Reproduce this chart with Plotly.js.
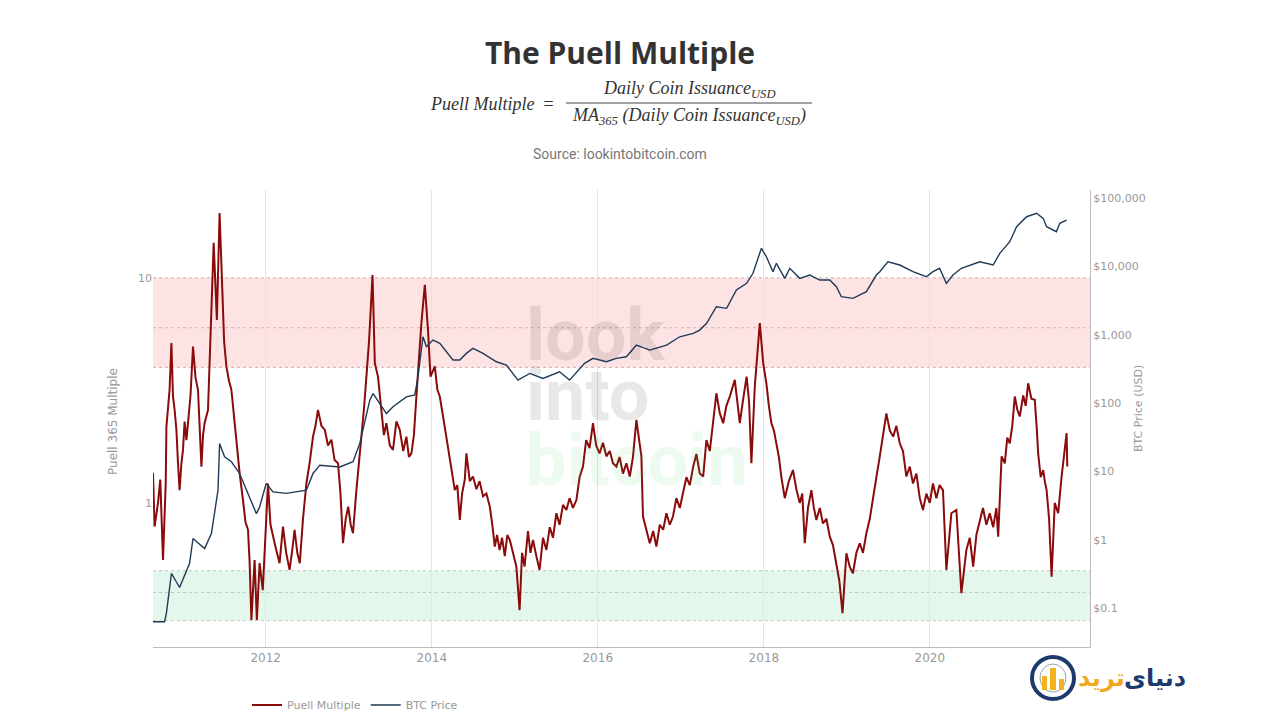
<!DOCTYPE html>
<html>
<head>
<meta charset="utf-8">
<script src="https://cdn.plot.ly/plotly-3.0.1.min.js"></script>
<style>
  html, body { margin: 0; padding: 0; background: #fff; }
  #chart { width: 1280px; height: 720px; }
</style>
</head>
<body>
<div id="chart"></div>
<script>
"use strict"

// Puell Multiple (decimal year, value)
let puellYears = [
	2010.642, 2010.663, 2010.702, 2010.731, 2010.763, 2010.795, 2010.804, 2010.843, 2010.864, 2010.883,
	2010.903, 2010.924, 2010.944, 2010.964, 2010.984, 2011.004, 2011.024, 2011.044, 2011.064, 2011.094,
	2011.124, 2011.154, 2011.184, 2011.204, 2011.225, 2011.245, 2011.265, 2011.305, 2011.346, 2011.373,
	2011.413, 2011.446, 2011.478, 2011.500, 2011.527, 2011.557, 2011.587, 2011.617, 2011.647, 2011.667,
	2011.687, 2011.727, 2011.757, 2011.787, 2011.807, 2011.828, 2011.867, 2011.895, 2011.928, 2011.967,
	2011.995, 2012.028, 2012.058, 2012.088, 2012.128, 2012.169, 2012.208, 2012.248, 2012.289, 2012.320,
	2012.349, 2012.380, 2012.410, 2012.450, 2012.490, 2012.530, 2012.570, 2012.600, 2012.630, 2012.670,
	2012.711, 2012.750, 2012.792, 2012.830, 2012.871, 2012.900, 2012.931, 2012.962, 2012.992, 2013.022,
	2013.052, 2013.093, 2013.123, 2013.153, 2013.183, 2013.213, 2013.245, 2013.286, 2013.313, 2013.353,
	2013.394, 2013.424, 2013.454, 2013.494, 2013.534, 2013.574, 2013.614, 2013.655, 2013.695, 2013.725,
	2013.755, 2013.785, 2013.815, 2013.876, 2013.916, 2013.955, 2013.984, 2014.036, 2014.066, 2014.096,
	2014.137, 2014.177, 2014.227, 2014.277, 2014.307, 2014.337, 2014.367, 2014.398, 2014.418, 2014.458,
	2014.498, 2014.538, 2014.578, 2014.618, 2014.658, 2014.699, 2014.729, 2014.759, 2014.789, 2014.819,
	2014.849, 2014.880, 2014.910, 2014.940, 2014.980, 2015.020, 2015.060, 2015.090, 2015.120, 2015.160,
	2015.190, 2015.221, 2015.261, 2015.301, 2015.341, 2015.382, 2015.422, 2015.462, 2015.502, 2015.542,
	2015.582, 2015.623, 2015.663, 2015.703, 2015.743, 2015.783, 2015.823, 2015.863, 2015.903, 2015.943,
	2015.983, 2016.024, 2016.064, 2016.105, 2016.145, 2016.185, 2016.225, 2016.265, 2016.305, 2016.345,
	2016.386, 2016.426, 2016.466, 2016.496, 2016.527, 2016.546, 2016.586, 2016.627, 2016.667, 2016.707,
	2016.747, 2016.787, 2016.827, 2016.867, 2016.907, 2016.947, 2016.987, 2017.028, 2017.068, 2017.108,
	2017.148, 2017.188, 2017.228, 2017.269, 2017.309, 2017.349, 2017.389, 2017.430, 2017.470, 2017.510,
	2017.550, 2017.590, 2017.651, 2017.711, 2017.751, 2017.792, 2017.822, 2017.852, 2017.892, 2017.922,
	2017.952, 2017.992, 2018.032, 2018.062, 2018.093, 2018.123, 2018.153, 2018.183, 2018.213, 2018.253,
	2018.303, 2018.353, 2018.393, 2018.434, 2018.464, 2018.494, 2018.534, 2018.575, 2018.605, 2018.635,
	2018.675, 2018.715, 2018.755, 2018.795, 2018.835, 2018.876, 2018.912, 2018.948, 2018.996, 2019.036,
	2019.076, 2019.116, 2019.157, 2019.197, 2019.237, 2019.277, 2019.317, 2019.357, 2019.398, 2019.438,
	2019.478, 2019.518, 2019.559, 2019.599, 2019.639, 2019.679, 2019.719, 2019.759, 2019.799, 2019.839,
	2019.880, 2019.920, 2019.960, 2020.000, 2020.040, 2020.080, 2020.120, 2020.161, 2020.201, 2020.261,
	2020.322, 2020.382, 2020.442, 2020.482, 2020.522, 2020.562, 2020.602, 2020.642, 2020.682, 2020.723,
	2020.763, 2020.803, 2020.823, 2020.864, 2020.904, 2020.934, 2020.964, 2020.994, 2021.024, 2021.054,
	2021.084, 2021.124, 2021.154, 2021.184, 2021.224, 2021.265, 2021.285, 2021.305, 2021.335, 2021.365,
	2021.385, 2021.406, 2021.436, 2021.466, 2021.506, 2021.546, 2021.587, 2021.617, 2021.647, 2021.655
];
let puellValues = [
	1.36, 0.785, 1.0, 1.27, 0.558, 1.22, 2.18, 3.18, 5.13, 2.97,
	2.6, 2.11, 1.5, 1.14, 1.5, 1.72, 2.3, 1.9, 2.26, 3.0,
	4.95, 3.6, 3.18, 2.3, 1.45, 2.0, 2.26, 2.59, 6.5, 14.3,
	6.5, 19.4, 8.84, 5.2, 4.04, 3.5, 3.18, 2.4, 1.91, 1.5,
	1.36, 1.03, 0.82, 0.76, 0.55, 0.302, 0.558, 0.302, 0.54, 0.41,
	0.7, 1.22, 0.8, 0.708, 0.62, 0.54, 0.785, 0.6, 0.504, 0.62,
	0.76, 0.6, 0.54, 0.85, 1.22, 1.5, 1.97, 2.2, 2.59, 2.2,
	2.11, 1.8, 1.91, 1.55, 1.50, 1.1, 0.662, 0.85, 0.963, 0.8,
	0.733, 1.14, 1.5, 1.91, 2.6, 3.64, 5.3, 10.3, 4.18, 3.64,
	2.59, 2.0, 2.26, 1.8, 1.72, 2.3, 2.11, 1.7, 1.97, 1.6,
	1.66, 2.0, 2.97, 6.29, 9.3, 5.87, 3.64, 4.04, 3.2, 2.97,
	2.4, 1.97, 1.5, 1.14, 1.2, 0.84, 1.1, 1.27, 1.66, 1.25,
	1.31, 1.15, 1.25, 1.07, 1.1, 0.963, 0.8, 0.64, 0.72, 0.618,
	0.7, 0.58, 0.72, 0.685, 0.6, 0.521, 0.334, 0.6, 0.521, 0.75,
	0.6, 0.685, 0.58, 0.504, 0.7, 0.618, 0.78, 0.7, 0.90, 0.8,
	0.98, 0.93, 1.05, 0.95, 1.03, 1.3, 1.45, 1.9, 1.75, 2.26,
	1.8, 1.66, 1.85, 1.61, 1.7, 1.5, 1.45, 1.6, 1.35, 1.5,
	1.31, 1.6, 2.34, 1.9, 1.61, 0.87, 0.75, 0.662, 0.75, 0.64,
	0.8, 0.76, 0.9, 0.8, 0.87, 1.05, 0.95, 1.14, 1.3, 1.2,
	1.45, 1.65, 1.35, 1.31, 1.9, 1.7, 2.34, 3.07, 2.5, 2.26,
	2.7, 2.97, 3.52, 2.26, 2.9, 3.64, 2.8, 1.50, 3.29, 4.5,
	6.29, 4.18, 3.40, 2.7, 2.26, 2.1, 1.84, 1.6, 1.3, 1.05,
	1.25, 1.40, 1.15, 1.0, 1.1, 0.662, 0.95, 1.14, 0.95, 0.84,
	0.95, 0.81, 0.85, 0.708, 0.65, 0.521, 0.45, 0.324, 0.598, 0.52,
	0.487, 0.6, 0.662, 0.6, 0.733, 0.85, 1.07, 1.3, 1.61, 2.0,
	2.50, 2.1, 1.97, 2.2, 1.84, 1.7, 1.31, 1.45, 1.22, 1.35,
	1.05, 0.93, 1.1, 1.0, 1.22, 1.05, 1.2, 1.14, 0.504, 0.90,
	0.93, 0.397, 0.618, 0.7, 0.521, 0.72, 0.84, 0.95, 0.8, 0.90,
	0.78, 0.95, 0.708, 1.61, 1.5, 1.95, 1.84, 2.2, 2.97, 2.6,
	2.42, 3.0, 2.7, 3.40, 2.9, 2.87, 2.2, 1.66, 1.3, 1.40,
	1.25, 1.14, 0.85, 0.47, 1.0, 0.90, 1.31, 1.6, 2.04, 1.45
];

// BTC price (USD)
let btcYears = [
	2010.642, 2010.783, 2010.804, 2010.864, 2010.924, 2010.964, 2011.084, 2011.124, 2011.265, 2011.346,
	2011.425, 2011.446, 2011.506, 2011.587, 2011.687, 2011.807, 2011.888, 2011.928, 2012.008, 2012.088,
	2012.249, 2012.490, 2012.570, 2012.651, 2012.892, 2013.052, 2013.133, 2013.253, 2013.293, 2013.454,
	2013.534, 2013.695, 2013.795, 2013.835, 2013.895, 2013.936, 2014.016, 2014.096, 2014.257, 2014.337,
	2014.418, 2014.498, 2014.618, 2014.780, 2014.900, 2015.040, 2015.181, 2015.341, 2015.542, 2015.663,
	2015.843, 2015.943, 2016.105, 2016.225, 2016.346, 2016.466, 2016.627, 2016.828, 2016.988, 2017.148,
	2017.229, 2017.310, 2017.430, 2017.551, 2017.671, 2017.792, 2017.871, 2017.972, 2018.032, 2018.112,
	2018.153, 2018.253, 2018.313, 2018.434, 2018.554, 2018.675, 2018.795, 2018.876, 2018.936, 2019.076,
	2019.237, 2019.358, 2019.398, 2019.498, 2019.639, 2019.799, 2019.960, 2020.040, 2020.120, 2020.201,
	2020.281, 2020.382, 2020.602, 2020.763, 2020.843, 2020.964, 2021.044, 2021.165, 2021.285, 2021.365,
	2021.406, 2021.526, 2021.566, 2021.647
];
let btcPrices = [
	0.063, 0.063, 0.084, 0.32, 0.24, 0.20, 0.45, 1.04, 0.74, 1.23,
	5.3, 25.6, 16.3, 13.8, 9.3, 4.2, 2.4, 3.0, 6.65, 5.0,
	4.75, 5.3, 9.3, 12.3, 11.6, 13.8, 25.6, 110, 138, 70,
	88, 123, 131, 242, 931, 665, 834, 746, 425, 425,
	532, 630, 532, 401, 359, 216, 271, 229, 286, 216,
	380, 450, 401, 450, 474, 704, 595, 704, 931, 1045,
	1167, 1463, 2560, 2427, 4500, 5640, 7900, 18350, 13830, 8340,
	11070, 6670, 9350, 6670, 7460, 6300, 6300, 5030, 3590, 3400,
	4250, 7460, 8340, 11680, 10450, 8340, 7040, 8340, 9350, 5640,
	7460, 9350, 11680, 10450, 15500, 22900, 38000, 53200, 59700, 50400,
	38000, 32100, 42600, 47600
];

// zones on the Puell axis
let topZone = [4, 10],
	bottomZone = [0.3, 0.5];
let zoneLines = [0.3, 0.4, 0.5, 4, 6, 10];

let btcTickVals = [0.1, 1, 10, 100, 1000, 10000, 100000];
let btcTickText = ['$0.1', '$1', '$10', '$100', '$1,000', '$10,000', '$100,000'];

function yearToDate(y){
	let Y = Math.floor(y);
	let start = Date.UTC(Y, 0, 1), end = Date.UTC(Y + 1, 0, 1);
	return new Date(start + (y - Y) * (end - start)).toISOString().slice(0, 10);
}

// plot box in page pixels, used to place the free texts
let L = 153, R = 1090, T = 190, B = 647;
function px(x){ return (x - L) / (R - L); }
function py(y){ return (B - y) / (B - T); }

let gray = '#999';

let puellTrace = {
	x: puellYears.map(yearToDate),
	y: puellValues,
	name: 'Puell Multiple',
	mode: 'lines',
	type: 'scatter',
	line: {color: '#8b0a0a', width: 2},
	yaxis: 'y'
};
let btcTrace = {
	x: btcYears.map(yearToDate),
	y: btcPrices,
	name: 'BTC Price',
	mode: 'lines',
	type: 'scatter',
	line: {color: '#1f3a56', width: 1.4},
	yaxis: 'y2'
};

let shapes = [
	{type: 'rect', xref: 'paper', x0: 0, x1: 1, yref: 'y', y0: topZone[0], y1: topZone[1],
		fillcolor: '#fde3e3', line: {width: 0}, layer: 'below'},
	{type: 'rect', xref: 'paper', x0: 0, x1: 1, yref: 'y', y0: bottomZone[0], y1: bottomZone[1],
		fillcolor: '#e4f7ec', line: {width: 0}, layer: 'below'}
];
zoneLines.forEach(v => {
	shapes.push({type: 'line', xref: 'paper', x0: 0, x1: 1, yref: 'y', y0: v, y1: v,
		line: {color: v > 1 ? '#d6b0b0' : '#b7cdbf', width: 1, dash: 'dot'}, layer: 'below'});
});

// fraction bar of the formula
shapes.push({type: 'line', xref: 'paper', yref: 'paper', x0: px(566), x1: px(812), y0: py(103), y1: py(103),
	line: {color: '#444', width: 1}});

// logo (globe badge)
shapes.push({type: 'circle', xref: 'paper', yref: 'paper', x0: px(1032), x1: px(1074), y0: py(699), y1: py(657),
	fillcolor: '#ffffff', line: {color: '#1d3a6e', width: 4}});
shapes.push({type: 'circle', xref: 'paper', yref: 'paper', x0: px(1040), x1: px(1066), y0: py(692), y1: py(664),
	fillcolor: 'rgba(0,0,0,0)', line: {color: '#9aa3b5', width: 1}});
shapes.push({type: 'rect', xref: 'paper', yref: 'paper', x0: px(1042), x1: px(1047), y0: py(690), y1: py(676),
	fillcolor: '#f2b21b', line: {width: 0}});
shapes.push({type: 'rect', xref: 'paper', yref: 'paper', x0: px(1050), x1: px(1056), y0: py(690), y1: py(668),
	fillcolor: '#f2b21b', line: {width: 0}});
shapes.push({type: 'rect', xref: 'paper', yref: 'paper', x0: px(1059), x1: px(1064), y0: py(690), y1: py(679),
	fillcolor: '#f2b21b', line: {width: 0}});

let formulaFont = {family: 'Liberation Serif', size: 18, color: '#333'};
let annotations = [
	// formula
	{xref: 'paper', yref: 'paper', x: px(428), xanchor: 'left', y: py(104), yanchor: 'middle', showarrow: false,
		text: '<i>Puell Multiple</i>  =', font: formulaFont},
	{xref: 'paper', yref: 'paper', x: px(689), xanchor: 'center', y: py(90), yanchor: 'middle', showarrow: false,
		text: '<i>Daily Coin Issuance<sub>USD</sub></i>', font: formulaFont},
	{xref: 'paper', yref: 'paper', x: px(689), xanchor: 'center', y: py(117), yanchor: 'middle', showarrow: false,
		text: '<i>MA<sub>365</sub> (Daily Coin Issuance<sub>USD</sub>)</i>', font: formulaFont},
	// source line
	{xref: 'paper', yref: 'paper', x: px(620), xanchor: 'center', y: py(154), yanchor: 'middle', showarrow: false,
		text: 'Source: lookintobitcoin.com', font: {family: 'Roboto', size: 14, color: '#777'}},
	// axis titles
	{xref: 'paper', yref: 'paper', x: px(113), xanchor: 'center', y: py(422), yanchor: 'middle', showarrow: false, textangle: -90,
		text: 'Puell 365 Multiple', font: {family: 'DejaVu Sans', size: 12, color: gray}},
	{xref: 'paper', yref: 'paper', x: px(1138), xanchor: 'center', y: py(409), yanchor: 'middle', showarrow: false, textangle: -90,
		text: 'BTC Price (USD)', font: {family: 'DejaVu Sans', size: 11, color: gray}},
	// watermark
	{xref: 'paper', yref: 'paper', x: px(524), xanchor: 'left', y: py(335), yanchor: 'middle', showarrow: false,
		text: '<b>look</b>', font: {family: 'Roboto', size: 72, color: 'rgba(0,0,0,0.09)'}},
	{xref: 'paper', yref: 'paper', x: px(524), xanchor: 'left', y: py(395), yanchor: 'middle', showarrow: false,
		text: '<b>into</b>', font: {family: 'Roboto', size: 72, color: 'rgba(0,0,0,0.09)'}},
	{xref: 'paper', yref: 'paper', x: px(524), xanchor: 'left', y: py(461), yanchor: 'middle', showarrow: false,
		text: '<b>bitcoin</b>', font: {family: 'Roboto', size: 72, color: 'rgba(40,200,90,0.09)'}},
	// logo text
	{xref: 'paper', yref: 'paper', x: px(1155), xanchor: 'center', y: py(678), yanchor: 'middle', showarrow: false,
		text: '<b>دنیای</b>', font: {family: 'DejaVu Sans', size: 24, color: '#1d3a6e'}},
	{xref: 'paper', yref: 'paper', x: px(1101), xanchor: 'center', y: py(678), yanchor: 'middle', showarrow: false,
		text: '<b>ترید</b>', font: {family: 'DejaVu Sans', size: 24, color: '#f2a81d'}}
];

let layout = {
	width: 1280,
	height: 720,
	paper_bgcolor: '#ffffff',
	plot_bgcolor: '#ffffff',
	margin: {l: L, r: 1280 - R, t: T, b: 720 - B, pad: 0},
	title: {
		text: '<b>The Puell Multiple</b>',
		xref: 'container', x: 620 / 1280, xanchor: 'center',
		yref: 'container', y: 1 - 53 / 720, yanchor: 'middle',
		font: {family: 'Open Sans', size: 30, color: '#333'}
	},
	showlegend: true,
	legend: {
		orientation: 'h',
		xref: 'container', x: 247 / 1280, xanchor: 'left',
		yref: 'container', y: 1 - 705 / 720, yanchor: 'middle',
		font: {family: 'DejaVu Sans', size: 11, color: gray},
		bgcolor: 'rgba(0,0,0,0)'
	},
	xaxis: {
		type: 'date',
		range: [yearToDate(2010.642), yearToDate(2021.93)],
		tick0: '2012-01-01',
		dtick: 'M24',
		tickformat: '%Y',
		showgrid: true,
		gridcolor: '#e4e4e4',
		showline: true,
		linecolor: '#bbbbbb',
		linewidth: 1,
		zeroline: false,
		ticks: '',
		automargin: false,
		tickfont: {family: 'DejaVu Sans', size: 12, color: gray}
	},
	yaxis: {
		type: 'log',
		range: [-0.64, 1.39],
		tickvals: [1, 10],
		ticktext: ['1', '10'],
		showgrid: false,
		zeroline: false,
		showline: false,
		ticks: '',
		automargin: false,
		tickfont: {family: 'DejaVu Sans', size: 11, color: gray}
	},
	yaxis2: {
		type: 'log',
		overlaying: 'y',
		side: 'right',
		range: [-1.571, 5.117],
		tickvals: btcTickVals,
		ticktext: btcTickText,
		showgrid: false,
		zeroline: false,
		showline: true,
		linecolor: '#bbbbbb',
		linewidth: 1,
		ticks: '',
		automargin: false,
		tickfont: {family: 'DejaVu Sans', size: 11, color: gray}
	},
	shapes: shapes,
	annotations: annotations,
	hovermode: false
};

Plotly.newPlot('chart', [puellTrace, btcTrace], layout, {displayModeBar: false, staticPlot: true});
</script>
</body>
</html>
